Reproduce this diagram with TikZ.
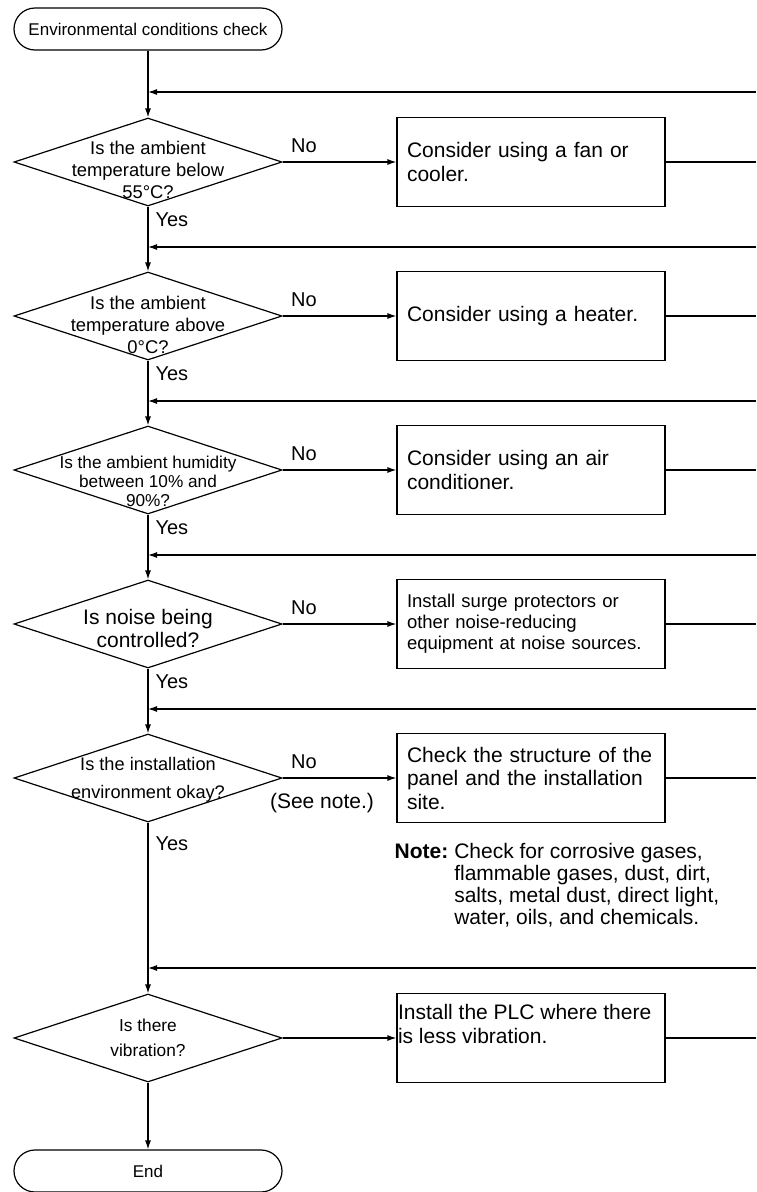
\documentclass[tikz,border=0pt]{standalone}
\usepackage{fontspec}
\setmainfont{Liberation Sans}
\usetikzlibrary{shapes.geometric,arrows.meta}

\tikzset{
  terminal/.style={draw, rounded corners=21pt, minimum width=268pt, minimum height=42pt, inner sep=0pt, font=\fontsize{17}{20}\selectfont},
  decision/.style={draw, diamond, minimum width=268pt, minimum height=88pt, inner sep=0pt},
  qtext/.style={align=center, inner sep=0pt},
  procbox/.style={draw, minimum width=268pt, minimum height=89pt, text width=248pt, inner xsep=10pt, align=left, font=\fontsize{21}{24}\selectfont},
  noanswer/.style={pos=0, anchor=south west, inner sep=2pt, xshift=6pt, yshift=7pt, font=\fontsize{20}{22}\selectfont},
  yesanswer/.style={pos=0, anchor=north west, inner sep=2pt, xshift=5pt, yshift=-4pt, font=\fontsize{20}{22}\selectfont},
  flow/.style={-{Latex[length=9pt,width=6pt]}},
}

\begin{document}
\begin{tikzpicture}[x=1pt,y=-1pt,line width=1.2pt]
\useasboundingbox (0,0) rectangle (756,1192);

% start
\node[terminal] (start) at (148,29) {Environmental conditions check};

% row 1: upper temperature
\coordinate (e1) at (756,92);
\coordinate (j1) at (148,92);
\node[decision] (d1) at (148,162) {};
\node[qtext, yshift=-8pt, font=\fontsize{18.4}{22}\selectfont] (q1) at (d1) {Is the ambient\\temperature below\\55°C?};
\node[procbox] (b1) at (531,162) {Consider using a fan or\\cooler.};
\coordinate (o1) at (756,162);

% row 2: lower temperature
\coordinate (e2) at (756,247);
\coordinate (j2) at (148,247);
\node[decision] (d2) at (148,316) {};
\node[qtext, yshift=-9pt, font=\fontsize{18.4}{22}\selectfont] (q2) at (d2) {Is the ambient\\temperature above\\0°C?};
\node[procbox] (b2) at (531,316) {Consider using a heater.};
\coordinate (o2) at (756,316);

% row 3: humidity
\coordinate (e3) at (756,401);
\coordinate (j3) at (148,401);
\node[decision] (d3) at (148,470) {};
\node[qtext, yshift=-11pt, font=\fontsize{17.2}{19}\selectfont] (q3) at (d3) {Is the ambient humidity\\between 10\% and\\90\%?};
\node[procbox] (b3) at (531,470) {Consider using an air\\conditioner.};
\coordinate (o3) at (756,470);

% row 4: noise
\coordinate (e4) at (756,555);
\coordinate (j4) at (148,555);
\node[decision] (d4) at (148,624) {};
\node[qtext, yshift=-4pt, font=\fontsize{21}{23}\selectfont] (q4) at (d4) {Is noise being\\controlled?};
\node[procbox, font=\fontsize{18.5}{21}\selectfont] (b4) at (531,624) {Install surge protectors or\\other noise-reducing\\equipment at noise sources.};
\coordinate (o4) at (756,624);

% row 5: installation site
\coordinate (e5) at (756,709);
\coordinate (j5) at (148,709);
\node[decision] (d5) at (148,778) {};
\node[qtext, yshift=-2pt, font=\fontsize{18.2}{28}\selectfont] (q5) at (d5) {Is the installation\\environment okay?};
\node[procbox, font=\fontsize{21}{23.5}\selectfont] (b5) at (531,778) {Check the structure of the\\panel and the installation\\site.};
\coordinate (o5) at (756,778);
\node[font=\fontsize{21}{24}\selectfont] (seenote) at (322,803) {(See note.)};
\node[anchor=north west, inner sep=0pt, font=\fontsize{21}{22}\selectfont] (note) at (394,842)
  {\begin{tabular}{@{}l@{\hspace{6pt}}l@{}}\textbf{Note:} & Check for corrosive gases,\\
   & flammable gases, dust, dirt,\\ & salts, metal dust, direct light,\\ & water, oils, and chemicals.\end{tabular}};

% row 6: vibration
\coordinate (e6) at (756,968);
\coordinate (j6) at (148,968);
\node[decision] (d6) at (148,1038) {};
\node[qtext, font=\fontsize{17.3}{25}\selectfont] (q6) at (d6) {Is there\\vibration?};
\node[procbox] (b6) at (531,1038) {};
\node[anchor=north west, inner sep=1pt, yshift=-10pt, align=left, font=\fontsize{21}{24}\selectfont] (t6) at (b6.north west) {Install the PLC where there\\is less vibration.};
\coordinate (o6) at (756,1038);

% end
\node[terminal] (end) at (148,1171) {End};

% main line
\draw[flow] (start) -- (d1);
\draw[flow] (d1) -- (d2) node[yesanswer] {Yes};
\draw[flow] (d2) -- (d3) node[yesanswer] {Yes};
\draw[flow] (d3) -- (d4) node[yesanswer] {Yes};
\draw[flow] (d4) -- (d5) node[yesanswer] {Yes};
\draw[flow] (d5) -- (d6) node[yesanswer, yshift=-8pt] {Yes};
\draw[flow] (d6) -- (end);

% no branches
\draw[flow] (d1.east) -- (b1.west) node[noanswer] {No};
\draw[flow] (d2.east) -- (b2.west) node[noanswer] {No};
\draw[flow] (d3.east) -- (b3.west) node[noanswer] {No};
\draw[flow] (d4.east) -- (b4.west) node[noanswer] {No};
\draw[flow] (d5.east) -- (b5.west) node[noanswer] {No};
\draw[flow] (d6.east) -- (b6.west);

% out to the right
\draw (b1.east) -- (o1);
\draw (b2.east) -- (o2);
\draw (b3.east) -- (o3);
\draw (b4.east) -- (o4);
\draw (b5.east) -- (o5);
\draw (b6.east) -- (o6);

% back in from the right
\draw[flow] (e1) -- (j1);
\draw[flow] (e2) -- (j2);
\draw[flow] (e3) -- (j3);
\draw[flow] (e4) -- (j4);
\draw[flow] (e5) -- (j5);
\draw[flow] (e6) -- (j6);
\end{tikzpicture}
\end{document}
